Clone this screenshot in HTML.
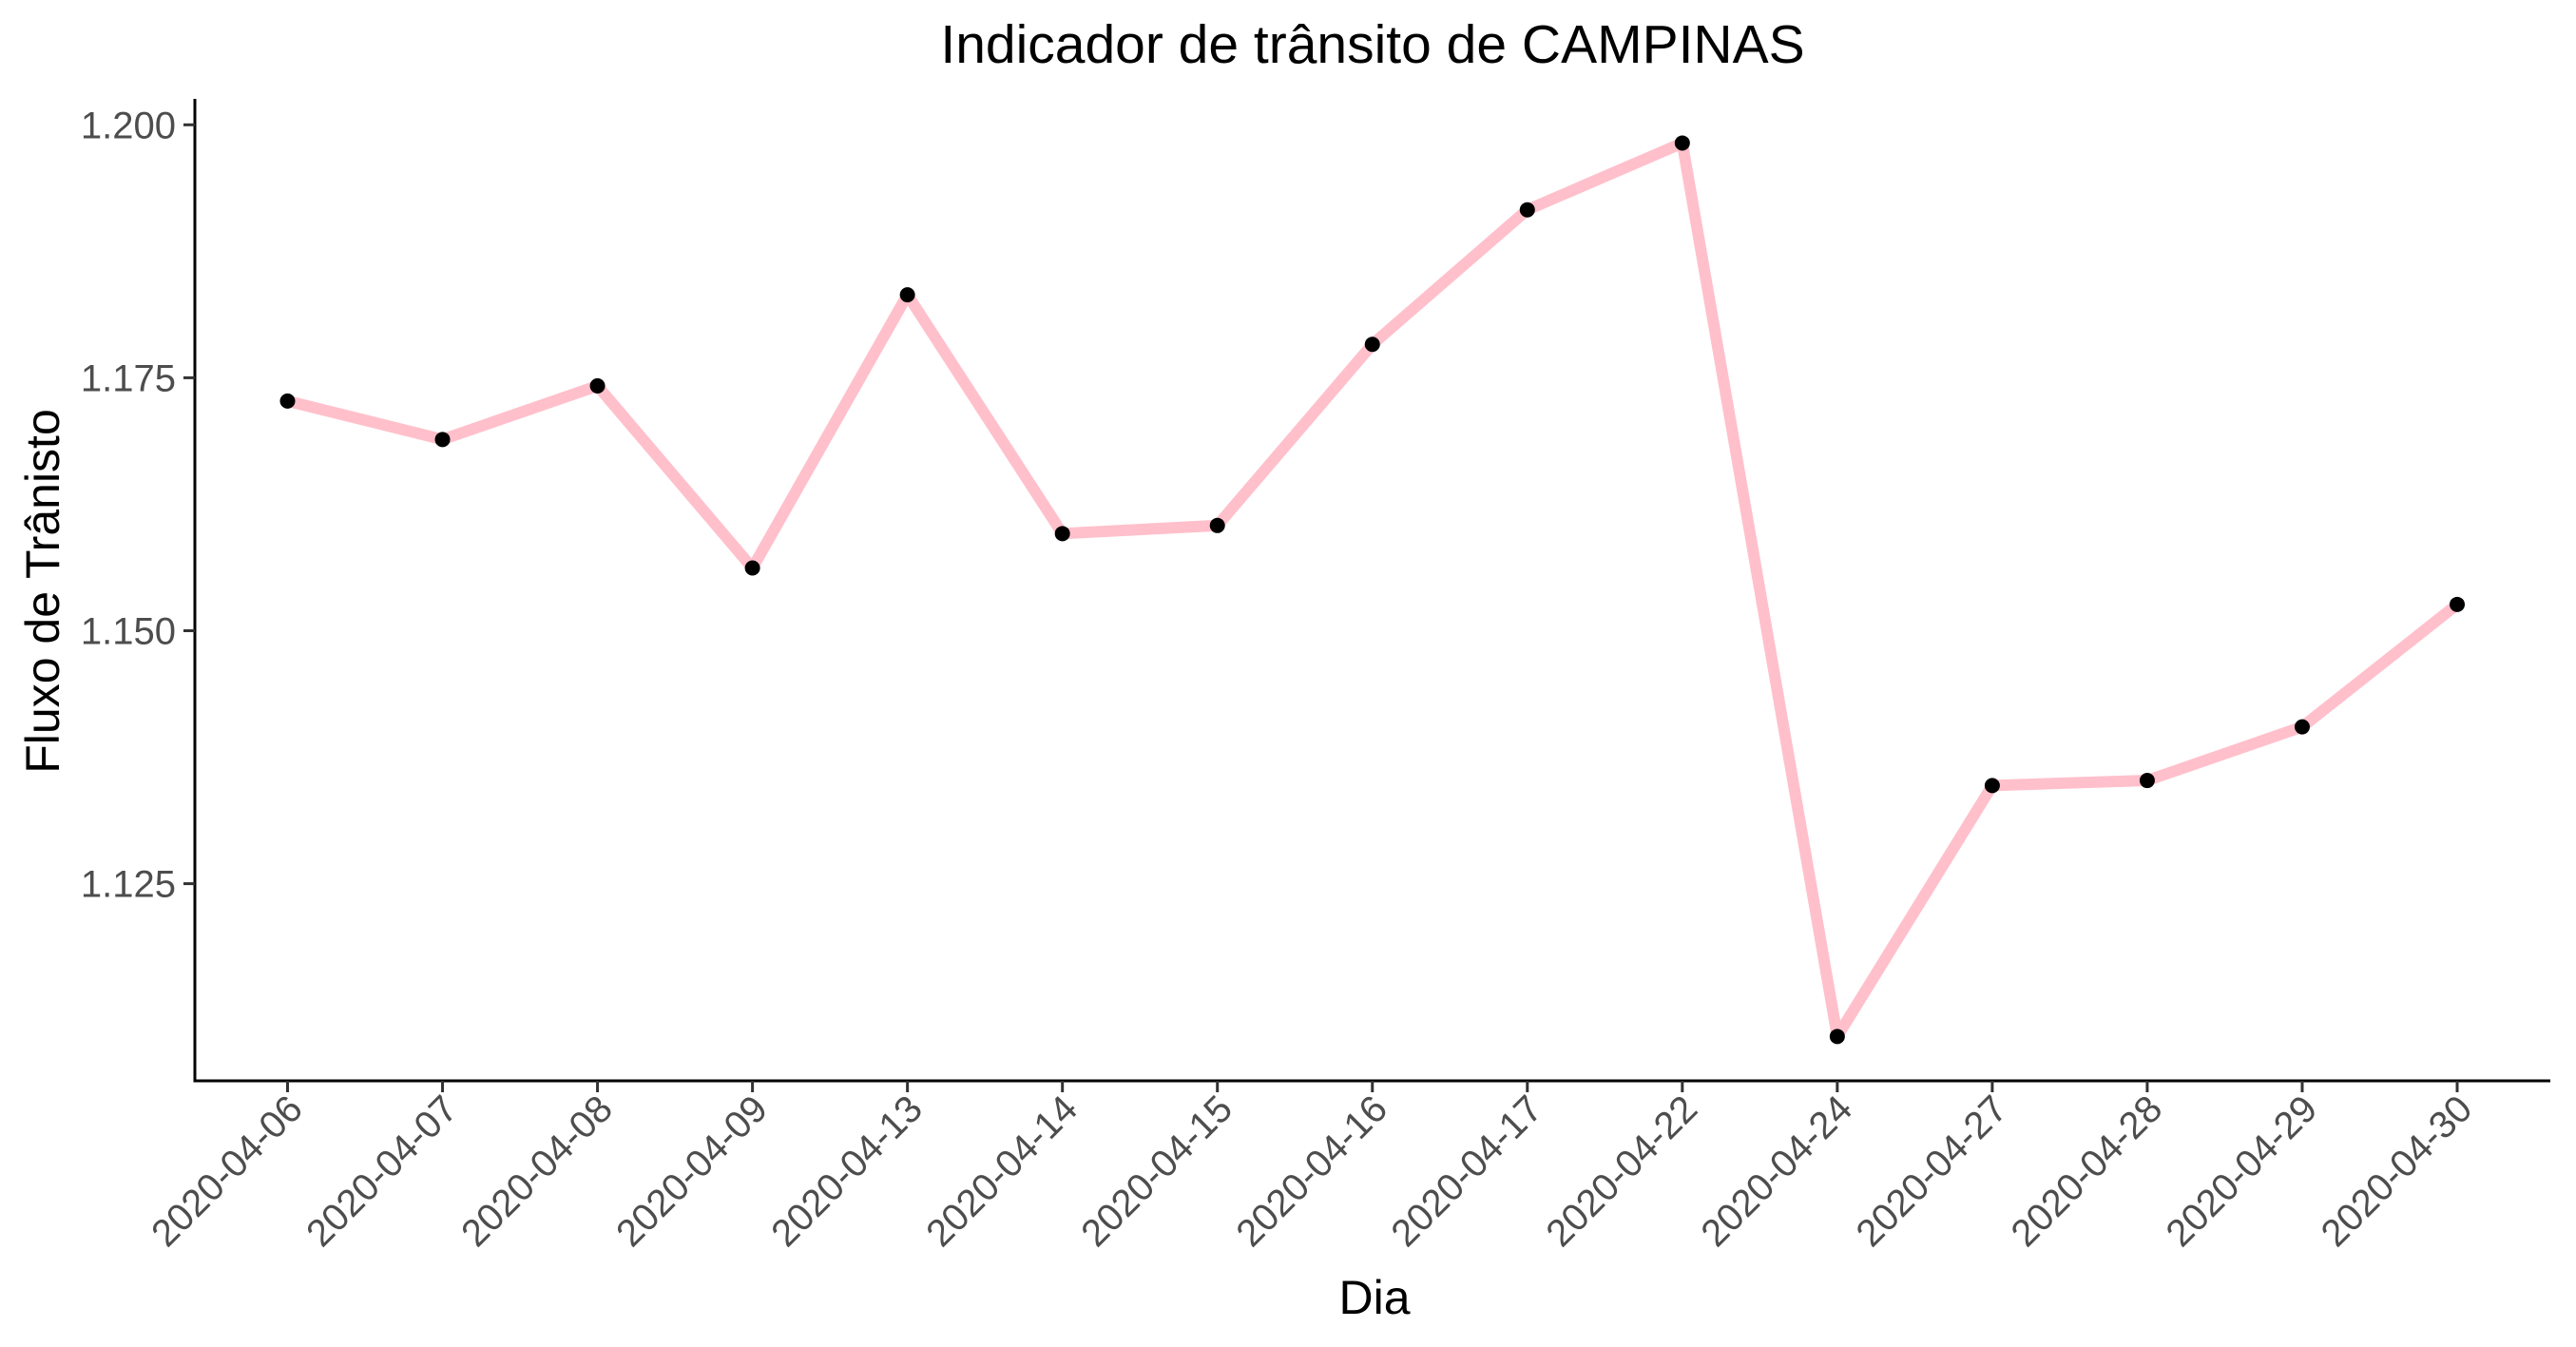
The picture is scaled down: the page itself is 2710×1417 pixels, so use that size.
<!DOCTYPE html>
<html><head><meta charset="utf-8"><style>
html,body{margin:0;padding:0;background:#fff;}
svg{display:block;font-family:"Liberation Sans",Arial,sans-serif;}
</style></head><body>
<svg id="chart" width="2710" height="1417" viewBox="0 0 2710 1417">
<rect width="2710" height="1417" fill="#fff"/>
<text x="1444" y="66" font-size="57" text-anchor="middle" fill="#000">Indicador de trânsito de CAMPINAS</text>
<text x="1446" y="1382" font-size="50" text-anchor="middle" fill="#000">Dia</text>
<text transform="translate(62,622) rotate(-90)" font-size="50" text-anchor="middle" fill="#000">Fluxo de Trânisto</text>
<g id="axes"></g>
<g id="marks"></g>
</svg>
<script>
const categories=["2020-04-06","2020-04-07","2020-04-08","2020-04-09","2020-04-13","2020-04-14","2020-04-15","2020-04-16","2020-04-17","2020-04-22","2020-04-24","2020-04-27","2020-04-28","2020-04-29","2020-04-30"];
const values=[1.1727,1.1689,1.1742,1.1562,1.1832,1.1596,1.1604,1.1783,1.1916,1.1982,1.1099,1.1347,1.1352,1.1405,1.1526];
const yTicks=[1.125,1.150,1.175,1.200];
const yTickLabels=["1.125","1.150","1.175","1.200"];
const NS="http://www.w3.org/2000/svg";
const x0=205,x1=2683,yTop=104,yBot=1137;
function xPos(i){return 302.5+i*(2585-302.5)/(categories.length-1);}
function yPos(v){return 131.3+(1.2-v)/0.025*266.1;}
function mk(tag,attrs,parent){const e=document.createElementNS(NS,tag);for(const k in attrs)e.setAttribute(k,attrs[k]);parent.appendChild(e);return e;}
const axes=document.getElementById('axes'),marks=document.getElementById('marks');
let e=mk('line',{x1:x0,y1:yTop,x2:x0,y2:yBot+1.5,stroke:'#000','stroke-width':3},axes);


e=mk('line',{x1:x0-1.5,y1:yBot,x2:x1,y2:yBot,stroke:'#000','stroke-width':3},axes);


yTicks.forEach((v,i)=>{
  const y=yPos(v);
  let t=mk('line',{x1:x0-12,y1:y,x2:x0,y2:y,stroke:'#333','stroke-width':3},axes);
  
  
  let l=mk('text',{x:x0-20,y:y+14,'font-size':40,'text-anchor':'end',fill:'#4d4d4d'},axes);
  l.textContent=yTickLabels[i];
  
  
});
categories.forEach((c,i)=>{
  const x=xPos(i);
  let t=mk('line',{x1:x,y1:yBot,x2:x,y2:yBot+12,stroke:'#333','stroke-width':3},axes);
  
  
  let l=mk('text',{transform:`translate(${x+18},${yBot+32}) rotate(-45)`,'font-size':40,'text-anchor':'end',fill:'#4d4d4d'},axes);
  l.textContent=c;
  
  
});
const pts=values.map((v,i)=>xPos(i)+','+yPos(v)).join(' ');
let pl=mk('polyline',{points:pts,fill:'none',stroke:'#FFC0CB','stroke-width':12,'stroke-linejoin':'round'},marks);


values.forEach((v,i)=>{
  let c=mk('circle',{cx:xPos(i),cy:yPos(v),r:8,fill:'#000'},marks);
  
  
});
</script>
</body></html>
